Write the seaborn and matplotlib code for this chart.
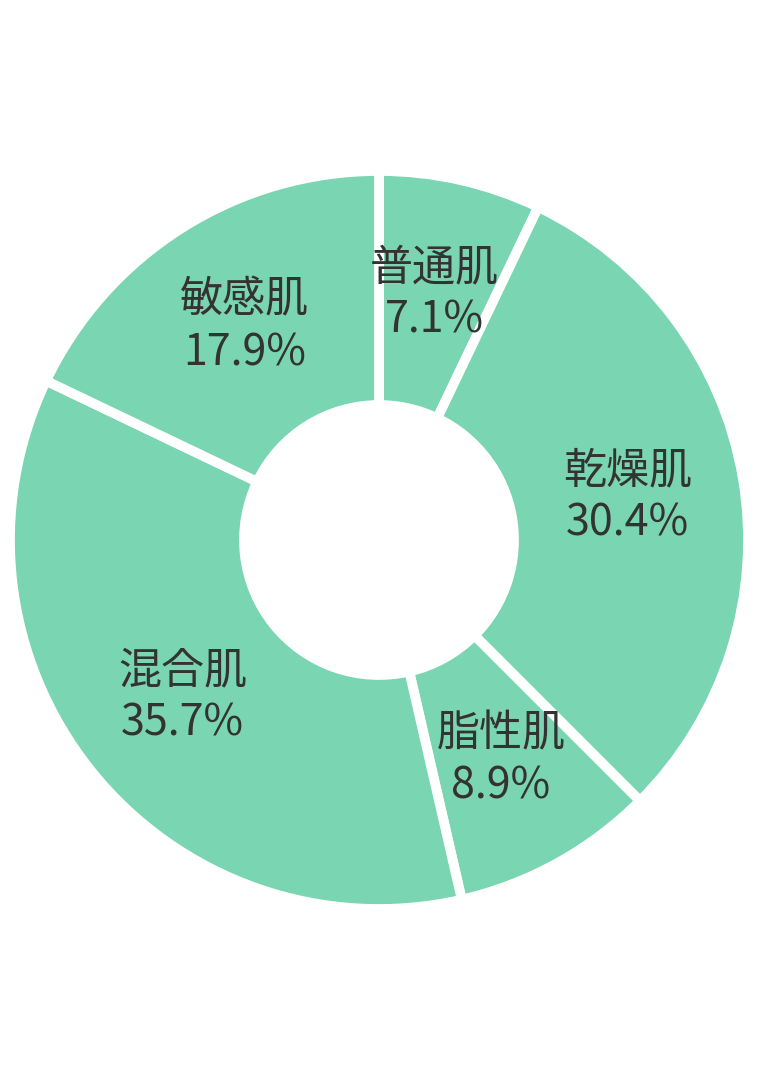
import matplotlib
matplotlib.use("Agg")
import matplotlib.pyplot as plt
import seaborn as sns

# 肌タイプの割合
skin_types = ["普通肌", "乾燥肌", "脂性肌", "混合肌", "敏感肌"]
shares = [7.1, 30.4, 8.9, 35.7, 17.9]

sns.set_theme(style="white")
plt.rcParams['font.family'] = ['Noto Sans CJK JP', 'DejaVu Sans']

fill = "#7AD5B3"
text_color = "#333333"

fig = plt.figure(figsize=(7.58, 10.86), dpi=100)
# center at (379, 540) px, radius 365 px
W, H = 758, 1086
cx, cy, r = 379, 540, 365
ax = fig.add_axes([(cx - r) / W, (H - cy - r) / H, 2 * r / W, 2 * r / H])

# white edge eats half the line width, so draw the ring a bit bigger
outer = 369 / r
inner = 135 / r

labels = [f"{n}\n{v}%" for n, v in zip(skin_types, shares)]
wedges, texts = ax.pie(
    shares,
    labels=labels,
    colors=[fill] * len(shares),
    startangle=90,
    counterclock=False,
    radius=outer,
    labeldistance=0.69 / outer,
    wedgeprops=dict(width=outer - inner, edgecolor="white", linewidth=7),
    textprops=dict(fontsize=31, color=text_color),
)
for t in texts:
    t.set_ha("center")
    t.set_va("center")
    t.set_multialignment("center")
    t.set_linespacing(1.25)

ax.set_xlim(-1, 1)
ax.set_ylim(-1, 1)
ax.set_aspect("equal")
ax.axis("off")

fig.savefig("out.png", dpi=100, facecolor="white")
